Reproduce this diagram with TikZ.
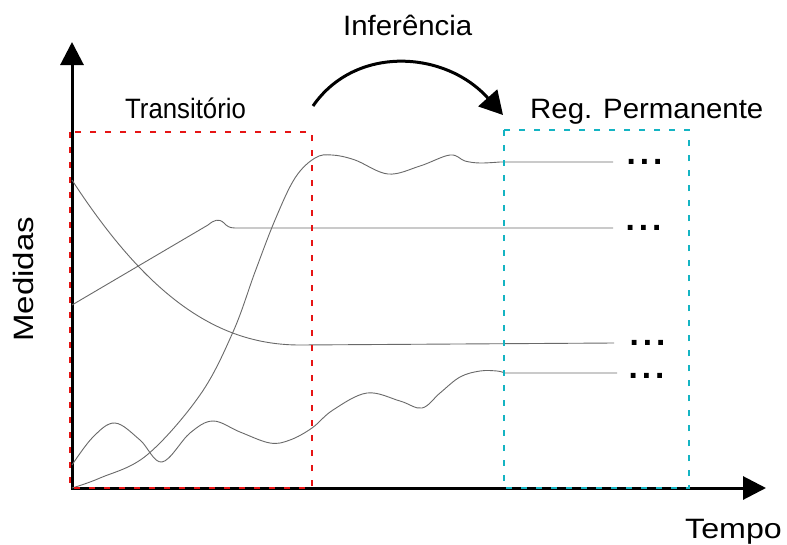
\documentclass[tikz,border=0pt]{standalone}
\usepackage{fontspec}
\setmainfont{Liberation Sans}
\newfontfamily\dotfont{DejaVu Sans}
\usepackage{graphicx}
\usetikzlibrary{arrows.meta}
\definecolor{boxred}{RGB}{230,20,20}
\definecolor{boxcyan}{RGB}{20,180,195}
\definecolor{curvegray}{RGB}{105,105,105}
\newcommand\hx[2]{\scalebox{#1}[1]{#2}}
\newcommand\bigdots{.\kern3pt.\kern3pt.}
\begin{document}
\begin{tikzpicture}[x=1pt,y=-1pt,
  axisline/.style={line width=3pt,line join=miter,{Triangle[length=23pt,width=23pt]}-{Triangle[length=23pt,width=23pt]}},
  curve/.style={curvegray,line width=0.9pt},
  redbox/.style={boxred,line width=2.6pt,dash pattern=on 6pt off 9pt},
  cyanbox/.style={boxcyan,line width=2.6pt,dash pattern=on 6pt off 9pt},
  lbl/.style={inner sep=0pt,anchor=base west,font=\fontsize{28}{30}\selectfont},
  more/.style={inner sep=0pt,anchor=base west,font=\dotfont\bfseries\fontsize{27}{27}\selectfont}]
\useasboundingbox (0,0) rectangle (787,544);
\fill[white] (0,0) rectangle (787,544);
% axes
\coordinate (O) at (72,488);
\coordinate (Ytip) at (72,42);
\coordinate (Xtip) at (766,488);
\draw[axisline] (Ytip) -- (O) -- (Xtip);
% curves
\draw[curve] (72,180) .. controls (150,300) and (220,345) .. (300,345) -- (614,343);
\draw[curve] (72,305) -- (208,225) .. controls (214,220) and (219,218) .. (224,223) .. controls (227,226) and (229,228) .. (235,228) -- (613,228);
\draw[curve] plot[smooth,tension=0.6] coordinates {(72,488) (100,478) (147,455) (200,395) (233,332) (255,272) (275,220) (295,178) (315,158) (332,155) (355,160) (388,174) (420,166) (450,155) (465,161) (480,163) (500,162)} -- (613,162);
\draw[curve] plot[smooth,tension=0.6] coordinates {(72,465) (93,437) (115,423) (140,440) (162,462) (190,433) (213,421) (240,432) (270,443) (290,440) (312,428) (333,410) (367,393) (400,401) (422,408) (440,393) (460,377) (480,371) (497,371) (505,373)} -- (617,373);
% boxes
\draw[redbox] (70,132) rectangle (312,488);
\draw[cyanbox] (504,130) rectangle (689,488);
% inference arrow
\coordinate (ArrS) at (313,106);
\coordinate (ArrE) at (503,115);
\draw[line width=3pt,-{Triangle[length=23pt,width=25pt]}] (ArrS) .. controls (355,45) and (445,50) .. (ArrE);
% labels
\node[lbl] (inf) at (343,35) {\hx{1.05}{Inferência}};
\node[lbl] (trans) at (125,118) {\hx{0.92}{Transitório}};
\node[lbl] (reg) at (530,118) {\hx{1.05}{Reg. Permanente}};
\node[lbl] (tempo) at (685,538) {\hx{1.15}{Tempo}};
\node[lbl,rotate=90] (med) at (33,342) {\hx{1.18}{Medidas}};
% continuation dots
\node[more] (d1) at (626,164.5) {\bigdots};
\node[more] (d2) at (625,230.5) {\bigdots};
\node[more] (d3) at (629,345.5) {\bigdots};
\node[more] (d4) at (628,378.5) {\bigdots};
\end{tikzpicture}
\end{document}
